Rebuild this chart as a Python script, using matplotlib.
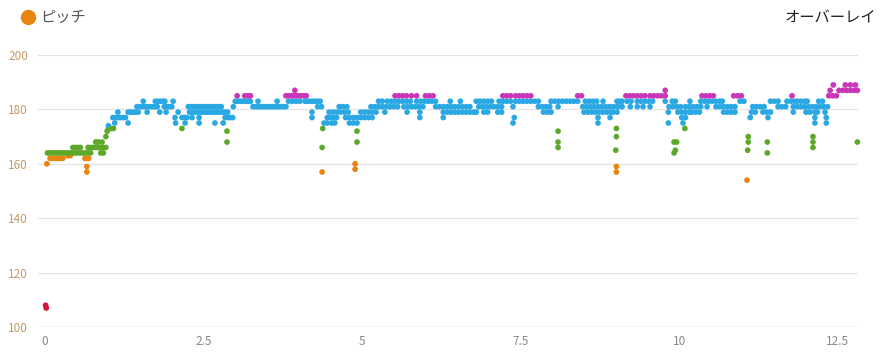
import matplotlib
matplotlib.use("Agg")
import matplotlib.pyplot as plt
from matplotlib.lines import Line2D

plt.rcParams['font.family'] = ['Noto Sans CJK JP', 'DejaVu Sans']

# pitch (spm) -> distances (km) where that value was recorded
sec_warmup = [
    (108, [0.01]), (107, [0.02]), (160, [0.03]),
    (162, [0.08, 0.12, 0.16, 0.20, 0.24, 0.28, 0.63, 0.66, 0.69]),
    (163, [0.36, 0.40]), (159, [0.66]), (157, [0.66]),
    (164, [0.04, 0.08, 0.12, 0.16, 0.20, 0.24, 0.28, 0.32, 0.36, 0.40, 0.44, 0.48,
           0.52, 0.56, 0.60, 0.64, 0.68, 0.72, 0.88, 0.92]),
    (166, [0.44, 0.48, 0.52, 0.56, 0.68, 0.72, 0.76, 0.80, 0.84, 0.88, 0.92, 0.96]),
    (168, [0.80, 0.84, 0.90]), (170, [0.96]), (172, [0.98]),
    (173, [1.00, 1.04, 1.08]), (174, [1.00]), (175, [1.10, 1.31]),
    (177, [1.07, 1.11, 1.15, 1.19, 1.23, 1.27]),
    (179, [1.15, 1.31, 1.35, 1.39, 1.43, 1.47, 1.61, 1.81, 1.91]),
    (181, [1.45, 1.49, 1.53, 1.57, 1.61, 1.65, 1.69, 1.73, 1.77, 1.88, 1.92, 1.96, 2.00]),
    (183, [1.55, 1.74, 1.78, 1.82, 1.86, 1.89, 2.02]),
]

sec_early = [
    (177, [2.05, 2.16, 2.20, 2.24, 2.32, 2.43, 2.84, 2.88, 2.92, 2.96, 4.21]),
    (175, [2.06, 2.21, 2.43, 2.68, 2.81]),
    (179, [2.10, 2.28, 2.32, 2.36, 2.40, 2.44, 2.48, 2.52, 2.56, 2.60, 2.64, 2.68,
           2.72, 2.76, 2.80, 2.84, 2.88, 4.21]),
    (173, [2.16]), (172, [2.87]), (168, [2.87]),
    (181, [2.26, 2.30, 2.34, 2.38, 2.42, 2.46, 2.50, 2.54, 2.58, 2.62, 2.66, 2.70,
           2.74, 2.78, 2.97, 3.28, 3.32, 3.36, 3.40, 3.44, 3.48, 3.52, 3.56, 3.60,
           3.64, 3.68, 3.72, 3.76, 3.80, 4.30, 4.36]),
    (183, [3.00, 3.04, 3.08, 3.12, 3.16, 3.20, 3.24, 3.36, 3.66, 3.84, 3.90, 3.96,
           4.02, 4.10, 4.14, 4.18, 4.22, 4.26, 4.30, 4.34]),
    (185, [3.03, 3.15, 3.20, 3.24, 3.80, 3.84, 3.88, 3.92, 3.96, 4.00, 4.04, 4.08, 4.12]),
    (187, [3.94]),
]

sec_middle = [
    (173, [4.38]), (166, [4.37]), (157, [4.37]),
    (175, [4.40, 4.45, 4.52, 4.57, 4.80, 4.86, 4.92]),
    (177, [4.45, 4.50, 4.55, 4.60, 4.74, 4.80, 4.86, 4.92, 4.98, 5.04, 5.10, 5.16,
           5.91, 6.28]),
    (179, [4.48, 4.54, 4.60, 4.66, 4.72, 4.78, 4.98, 5.04, 5.10, 5.16, 5.22, 5.36,
           5.71, 5.91, 6.28, 6.34, 6.40, 6.46, 6.52, 6.58, 6.64, 6.70, 6.76, 6.80]),
    (181, [4.64, 4.70, 4.76, 5.14, 5.20, 5.26, 5.32, 5.38, 5.44, 5.50, 5.56, 5.66,
           5.72, 5.78, 5.84, 5.90, 5.96, 6.16, 6.22, 6.28, 6.34, 6.40, 6.46, 6.52,
           6.58, 6.64, 6.70]),
    (172, [4.92]), (168, [4.92]), (160, [4.89]), (158, [4.89]),
    (183, [5.26, 5.32, 5.40, 5.46, 5.52, 5.58, 5.64, 5.70, 5.76, 5.86, 5.92, 5.98,
           6.04, 6.10, 6.16, 6.39, 6.55]),
    (185, [5.52, 5.58, 5.64, 5.70, 5.78, 5.86, 6.00, 6.06, 6.12]),
]

sec_late = [
    (183, [6.80, 6.86, 6.92, 6.98, 7.04, 7.16, 7.22, 7.28, 7.34, 7.42, 7.48, 7.54,
           7.60, 7.66, 7.72, 7.78, 7.98, 8.04, 8.10, 8.16, 8.22, 8.28, 8.34, 8.40,
           8.52, 8.58, 8.64, 8.70, 8.80, 9.02]),
    (185, [7.22, 7.28, 7.34, 7.42, 7.48, 7.54, 7.60, 7.66, 8.40, 8.46]),
    (181, [6.84, 6.90, 6.96, 7.02, 7.08, 7.14, 7.20, 7.38, 7.78, 7.84, 7.90, 7.96,
           8.09, 8.48, 8.54, 8.60, 8.66, 8.72, 8.78, 8.84, 8.90, 8.96, 9.02]),
    (179, [6.92, 6.98, 7.14, 7.20, 7.86, 7.92, 7.98, 8.50, 8.56, 8.62, 8.68, 8.74,
           8.80, 8.86, 8.92, 8.96, 9.02]),
    (177, [7.40, 8.72, 8.91]), (175, [7.38, 8.72]),
    (172, [8.09]), (168, [8.09]), (166, [8.09]),
    (173, [9.01]), (170, [9.01]), (165, [9.00]), (159, [9.01]), (157, [9.01]),
]

sec_ninth = [
    (185, [9.16, 9.22, 9.28, 9.34, 9.40, 9.46, 9.54, 9.60, 9.66, 9.72, 9.78, 10.36,
           10.42, 10.48, 10.54, 10.86, 10.92, 10.98]),
    (187, [9.78]),
    (183, [9.06, 9.10, 9.18, 9.24, 9.34, 9.40, 9.46, 9.52, 9.58, 9.78, 9.89, 9.94,
           10.17, 10.34, 10.40, 10.46, 10.52, 10.58, 10.64, 10.68, 10.96, 11.02]),
    (181, [9.04, 9.10, 9.23, 9.34, 9.43, 9.54, 9.84, 9.90, 9.96, 10.02, 10.10, 10.16,
           10.22, 10.28, 10.34, 10.44, 10.58, 10.64, 10.70, 10.76, 10.82, 10.88]),
    (179, [9.83, 9.98, 10.04, 10.10, 10.16, 10.20, 10.26, 10.32, 10.70, 10.76,
           10.82, 10.88]),
    (177, [10.04, 10.10]), (175, [9.83, 10.06]), (173, [10.09]),
    (168, [9.92, 9.96, 11.09]), (165, [9.94, 11.08]), (164, [9.92]),
    (170, [11.09]), (154, [11.07]),
]

sec_finish = [
    (181, [11.16, 11.22, 11.28, 11.34, 11.56, 11.62, 11.68, 11.80, 11.86, 11.92,
           11.98, 12.04, 12.10, 12.16, 12.22, 12.28, 12.34]),
    (179, [11.14, 11.20, 11.32, 11.38, 11.44, 11.80, 12.00, 12.06, 12.14, 12.18, 12.30]),
    (183, [11.44, 11.50, 11.56, 11.70, 11.76, 11.82, 11.86, 11.92, 11.98, 12.02,
           12.20, 12.26]),
    (177, [11.12, 11.40, 12.14, 12.32]), (175, [12.14, 12.32]),
    (185, [11.78, 12.36, 12.42, 12.48]),
    (187, [12.38, 12.52, 12.58, 12.64, 12.70, 12.76, 12.81]),
    (189, [12.43, 12.62, 12.70, 12.78]),
    (168, [11.39, 12.11, 12.81]), (164, [11.39]), (170, [12.11]), (166, [12.11]),
]

y_ticks = [100, 120, 140, 160, 180, 200]
x_ticks = [0, 2.5, 5, 7.5, 10, 12.5]
x_labels = ["0", "2.5", "5", "7.5", "10", "12.5"]


def zone_color(spm):
    if spm > 183:
        return "#c936b8"
    if spm >= 174:
        return "#2aa8e4"
    if spm >= 164:
        return "#5da82a"
    if spm >= 153:
        return "#e8850f"
    return "#d8143a"


points = []
for sec in (sec_warmup, sec_early, sec_middle, sec_late, sec_ninth, sec_finish):
    for spm, kms in sec:
        for km in kms:
            points.append((km, spm))
points.sort()
xs = [p[0] for p in points]
ys = [p[1] for p in points]
cs = [zone_color(p[1]) for p in points]

fig = plt.figure(figsize=(8.8, 3.57), dpi=100)
ax = fig.add_axes([38 / 880, 1 - 327 / 357, 820 / 880, 272 / 357])

ax.scatter(xs, ys, s=17, c=cs, linewidths=0, zorder=3, clip_on=False)

ax.set_xlim(-0.11, 12.82)
ax.set_ylim(100, 200)
ax.set_yticks(y_ticks)
ax.set_xticks(x_ticks)
ax.set_xticklabels(x_labels)
ax.grid(axis='y', color='#e3e3e3', linewidth=0.9)
ax.set_axisbelow(True)
for side in ax.spines.values():
    side.set_visible(False)
ax.axhline(100, color='#d4d4d4', linewidth=1.0, zorder=1)

ax.tick_params(axis='y', length=0, pad=21.5, labelsize=8.5, labelcolor='#c49a66')
ax.tick_params(axis='x', length=0, pad=6, labelsize=8.5, labelcolor='#888888')
for lab in ax.get_yticklabels():
    lab.set_horizontalalignment('left')

fig.add_artist(Line2D([28 / 880], [1 - 17 / 357], marker='o', markersize=10,
                      color='#e8850f', linestyle='none', transform=fig.transFigure))
fig.text(40 / 880, 1 - 17 / 357, "ピッチ", fontsize=11, color='#555555',
         va='center', ha='left')
fig.text(876 / 880, 1 - 17 / 357, "オーバーレイ", fontsize=11, color='#222222',
         va='center', ha='right')

fig.savefig("out.png", dpi=100)
